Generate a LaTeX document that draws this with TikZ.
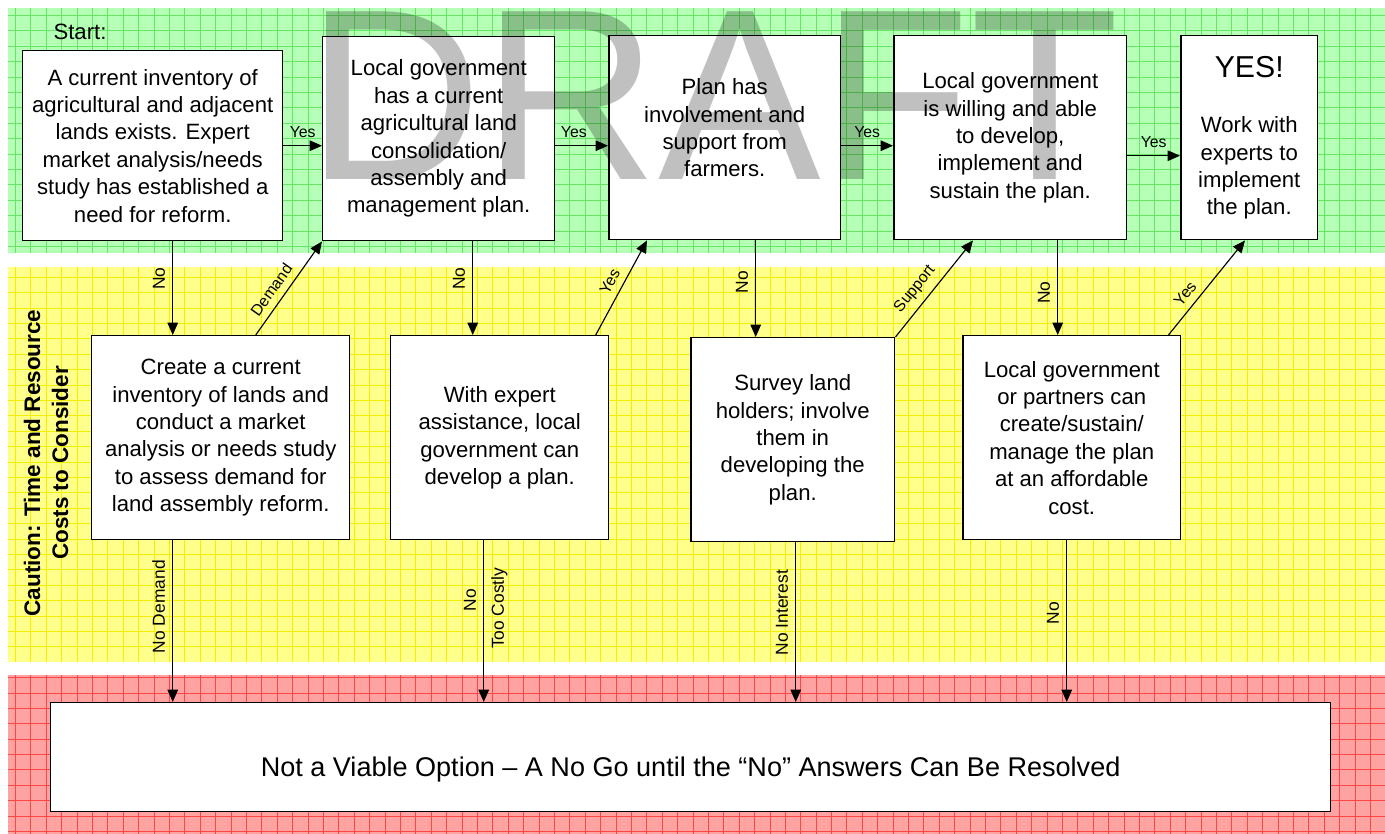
\documentclass[tikz,border=0pt]{standalone}
\usepackage{fontspec}
\setmainfont{Liberation Sans}
\usetikzlibrary{arrows.meta,calc}

\definecolor{greenband}{RGB}{182,255,182}
\definecolor{greengrid}{RGB}{100,232,100}
\definecolor{yellowband}{RGB}{255,255,140}
\definecolor{yellowgrid}{RGB}{245,238,0}
\definecolor{redband}{RGB}{255,162,162}
\definecolor{redgrid}{RGB}{255,70,70}
\definecolor{draftgray}{RGB}{192,192,192}

\tikzset{
	box/.style={draw, line width=0.85pt, fill=white, align=center, anchor=north west,
		font=\fontsize{12.6}{15.6}\selectfont, inner sep=2pt},
	arr/.style={line width=0.65pt, -{Triangle[length=7pt,width=6pt]}},
	lbl/.style={font=\fontsize{9}{10}\selectfont, inner sep=4pt},
	vlbl/.style={lbl, font=\fontsize{9.9}{11}\selectfont, rotate=90},
	band grid/.style={line width=0.4pt, step=0.308cm},
}

\begin{document}
\begin{tikzpicture}[x=0.02cm, y=-0.02cm]
	\useasboundingbox (0,0) rectangle (1385,834);

	%% BANDS
	\fill[greenband] (8,8) rectangle (1385,253);
	\draw[greengrid, band grid] (8,253) grid (1385,8);
	\fill[yellowband] (8,267) rectangle (1385,662);
	\draw[yellowgrid, band grid] (8,662) grid (1385,267);
	\fill[redband] (8,675) rectangle (1385,834);
	\draw[redgrid, band grid] (8,834) grid (1385,675);

	\node[font=\fontsize{12.6}{15}\selectfont] (start_lbl) at (80,32) {Start:};
	\node[font=\fontsize{12.8}{15.9}\selectfont\bfseries, rotate=90, align=center] (caution_lbl) at (46,463)
		{Caution: Time and Resource\\Costs to Consider};

	%% QUESTIONS
	\node[box, minimum width=5.2cm, minimum height=3.8cm] (inventory_exists) at (22,50)
		{A current inventory of\\agricultural and adjacent\\lands exists. Expert\\market analysis/needs\\study has established a\\need for reform.};
	\node[box, minimum width=4.64cm, minimum height=4.08cm] (plan_exists) at (322,36)
		{Local government\\has a current\\agricultural land\\consolidation/\\assembly and\\management plan.};
	\node[box, minimum width=4.64cm, minimum height=4.08cm, text depth=0.4cm] (farmer_support) at (608,35)
		{Plan has\\involvement and\\support from\\farmers.};
	\node[box, minimum width=4.66cm, minimum height=4.08cm] (gov_willing) at (893,35)
		{Local government\\is willing and able\\to develop,\\implement and\\sustain the plan.};
	\node[box, minimum width=2.74cm, minimum height=4.08cm] (yes_final) at (1180,35)
		{{\fontsize{17.2}{20}\selectfont YES!}\\[16pt]Work with\\experts to\\implement\\the plan.};

	%% CAUTION ROW
	\node[box, minimum width=5.16cm, minimum height=4.08cm] (create_inventory) at (91,335)
		{Create a current\\inventory of lands and\\conduct a market\\analysis or needs study\\to assess demand for\\land assembly reform.};
	\node[box, minimum width=4.36cm, minimum height=4.08cm] (expert_help) at (390,335)
		{With expert\\assistance, local\\government can\\develop a plan.};
	\node[box, minimum width=4.08cm, minimum height=4.08cm] (survey_holders) at (690,337)
		{Survey land\\holders; involve\\them in\\developing the\\plan.};
	\node[box, minimum width=4.36cm, minimum height=4.08cm] (affordable_cost) at (962,335)
		{Local government\\or partners can\\create/sustain/\\manage the plan\\at an affordable\\cost.};

	%% NO GO
	\node[box, minimum width=25.6cm, minimum height=2.18cm, font=\fontsize{15.4}{18}\selectfont,
		text height=0.77cm, text depth=0pt] (no_go) at (50,702)
		{Not a Viable Option – A No Go until the “No” Answers Can Be Resolved};

	% watermark
	\begin{scope}[blend mode=multiply]
		\node[font=\fontsize{138.8}{140}\selectfont, text=draftgray, anchor=base west, inner sep=0pt]
			(draft_mark) at (306,180) {DRAFT};
	\end{scope}

	%% YES PATH
	\draw[arr] (inventory_exists.east) -- node[lbl, above] {Yes}
		(inventory_exists.east -| plan_exists.west);
	\draw[arr] ([yshift=-0.14cm]plan_exists.east) -- node[lbl, above, pos=0.35] {Yes}
		([yshift=-0.14cm]plan_exists.east -| farmer_support.west);
	\draw[arr] ([yshift=-0.16cm]farmer_support.east) -- node[lbl, above] {Yes}
		([yshift=-0.16cm]farmer_support.east -| gov_willing.west);
	\draw[arr] ([yshift=-0.36cm]gov_willing.east) -- node[lbl, above] {Yes}
		([yshift=-0.36cm]gov_willing.east -| yes_final.west);

	%% NO: DOWN TO THE CAUTION ROW
	\draw[arr] ([xshift=0.4cm]inventory_exists.south) -- node[vlbl, anchor=south, pos=0.4] {No}
		([xshift=0.4cm]inventory_exists.south |- create_inventory.north);
	\draw[arr] ([xshift=0.68cm]plan_exists.south) -- node[vlbl, anchor=south, pos=0.4] {No}
		([xshift=0.68cm]plan_exists.south |- expert_help.north);
	\draw[arr] ([xshift=0.62cm]farmer_support.south) -- node[vlbl, anchor=south, pos=0.43] {No}
		([xshift=0.62cm]farmer_support.south |- survey_holders.north);
	\draw[arr] ([xshift=0.95cm]gov_willing.south) -- node[vlbl, anchor=south, pos=0.55] {No}
		([xshift=0.95cm]gov_willing.south |- affordable_cost.north);

	%% BACK UP ONCE RESOLVED
	\draw[arr] ([xshift=0.7cm]create_inventory.north) -- node[lbl, sloped, above, pos=0.4] {Demand}
		(plan_exists.south west);
	\draw[arr] ([xshift=1.92cm]expert_help.north) -- node[lbl, sloped, above, pos=0.5] {Yes}
		([xshift=0.78cm]farmer_support.south west);
	\draw[arr] (survey_holders.north east) -- node[lbl, sloped, above, pos=0.4] {Support}
		([xshift=1.6cm]gov_willing.south west);
	\draw[arr] ([xshift=-0.26cm]affordable_cost.north east) -- node[lbl, sloped, above, pos=0.35] {Yes}
		([xshift=1.3cm]yes_final.south west);

	%% NO GO
	\draw[arr] ([xshift=-0.96cm]create_inventory.south) -- node[vlbl, anchor=south, pos=0.41] {No Demand}
		([xshift=-0.96cm]create_inventory.south |- no_go.north);
	\draw[arr] ([xshift=-0.32cm]expert_help.south)
		-- node[vlbl, anchor=south, pos=0.37] {No} node[vlbl, anchor=north, pos=0.42] {Too Costly}
		([xshift=-0.32cm]expert_help.south |- no_go.north);
	\draw[arr] ([xshift=0.06cm]survey_holders.south) -- node[vlbl, anchor=south, pos=0.44] {No Interest}
		([xshift=0.06cm]survey_holders.south |- no_go.north);
	\draw[arr] ([xshift=-0.1cm]affordable_cost.south) -- node[vlbl, anchor=south, pos=0.45] {No}
		([xshift=-0.1cm]affordable_cost.south |- no_go.north);

\end{tikzpicture}
\end{document}
